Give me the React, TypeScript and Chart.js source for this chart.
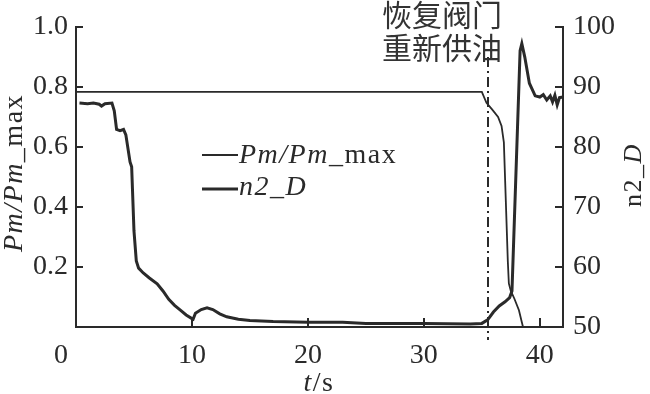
import React, { useEffect, useRef } from "react";
import { Chart, registerables } from "chart.js";

Chart.register(...registerables);

// ---- data ----
const pmTime = [0, 5, 10, 15, 20, 25, 30, 35.0, 35.4, 35.9, 36.4, 36.7, 36.9, 37.07, 37.24, 37.33, 37.5, 37.8, 38.2, 38.45, 38.55];
const pmValues = [0.783, 0.783, 0.783, 0.783, 0.783, 0.783, 0.783, 0.783, 0.747, 0.724, 0.7, 0.67, 0.615, 0.418, 0.22, 0.145, 0.12, 0.095, 0.056, 0.016, 0.0];

const n2Time = [
  0.3, 1.0, 1.5, 2.0, 2.2, 2.5, 3.1, 3.3, 3.5, 3.8, 4.1, 4.3, 4.66, 4.8, 5.0, 5.2, 5.4, 5.8, 6.3, 7.0, 7.5, 8.0, 8.5,
  9.0, 9.5, 10.0, 10.1, 10.3, 10.8, 11.3, 11.8, 12.4, 13.0, 14.0, 15.0, 17.0, 20.0, 23.0, 25.0, 30.0, 34.0, 35.0,
  35.5, 36.0, 36.5, 37.0, 37.4, 37.6, 38.3, 38.45, 38.7, 39.1, 39.6, 40.0, 40.3, 40.6, 40.9, 41.1, 41.3, 41.5, 41.7, 42.0,
];
const n2Values = [
  87.3, 87.2, 87.3, 87.1, 86.8, 87.2, 87.3, 86.0, 82.9, 82.7, 82.9, 82.0, 77.5, 76.7, 66.0, 61.0, 59.8, 59.0, 58.2, 57.2, 56.0, 54.6, 53.6,
  52.8, 52.0, 51.4, 51.3, 52.3, 52.9, 53.2, 52.9, 52.2, 51.7, 51.3, 51.1, 50.9, 50.8, 50.8, 50.6, 50.6, 50.5, 50.6,
  51.2, 52.5, 53.5, 54.2, 54.9, 56.0, 96.0, 97.2, 95.0, 90.6, 88.5, 88.3, 88.7, 87.8, 88.5, 87.5, 88.6, 87.0, 88.2, 88.3,
];

const xTickValues = [0, 10, 20, 30, 40];
const leftTickValues = [0.2, 0.4, 0.6, 0.8, 1.0];
const rightTickValues = [60, 70, 80, 90, 100];
const valveTime = 35.5;
const annotationLines = ["恢复阀门", "重新供油"];

const INK = "#2a2a2a";
const SERIF = "'Liberation Serif', 'DejaVu Serif', serif";

function drawPieces(ctx: CanvasRenderingContext2D, pieces: [string, boolean][], size: number, x: number, y: number, align: "left" | "center") {
  let total = 0;
  const widths = pieces.map(([t, it]) => {
    ctx.font = `${it ? "italic " : ""}${size}px ${SERIF}`;
    const w = ctx.measureText(t).width;
    total += w;
    return w;
  });
  let cx = align === "center" ? x - total / 2 : x;
  pieces.forEach(([t, it], i) => {
    ctx.font = `${it ? "italic " : ""}${size}px ${SERIF}`;
    ctx.fillText(t, cx, y);
    cx += widths[i];
  });
}

const decorPlugin = {
  id: "decor",
  afterDraw(chart: any) {
    const ctx: CanvasRenderingContext2D = chart.ctx;
    const { left, right, top, bottom } = chart.chartArea;
    const xs = chart.scales.x;
    const ys = chart.scales.y;
    const y2 = chart.scales.y2;
    ctx.save();
    // inward tick marks
    ctx.strokeStyle = INK;
    ctx.lineWidth = 2;
    ctx.beginPath();
    xTickValues.forEach((v) => {
      if (v === 0) return;
      const px = Math.round(xs.getPixelForValue(v));
      ctx.moveTo(px, bottom);
      ctx.lineTo(px, bottom - 9);
    });
    leftTickValues.forEach((v) => {
      const py = Math.round(ys.getPixelForValue(v));
      ctx.moveTo(left, py);
      ctx.lineTo(left + 7, py);
    });
    rightTickValues.forEach((v) => {
      const py = Math.round(y2.getPixelForValue(v));
      ctx.moveTo(right, py);
      ctx.lineTo(right - 8, py);
    });
    ctx.stroke();

    // dash-dot marker line
    const vx = Math.round(xs.getPixelForValue(valveTime));
    ctx.setLineDash([10, 4, 2, 4]);
    ctx.lineWidth = 2;
    ctx.beginPath();
    ctx.moveTo(vx, 57);
    ctx.lineTo(vx, bottom + 13);
    ctx.stroke();
    ctx.setLineDash([]);

    // corner "0"
    ctx.fillStyle = INK;
    ctx.font = `28px ${SERIF}`;
    ctx.textAlign = "right";
    ctx.textBaseline = "alphabetic";
    ctx.fillText("0", left - 8, 363);

    // annotation
    ctx.font = `30px 'Noto Sans CJK SC'`;
    ctx.textAlign = "center";
    ctx.textBaseline = "middle";
    ctx.fillStyle = "#333";
    ctx.fillText(annotationLines[0], 442, 15);
    ctx.fillText(annotationLines[1], 442, 48);

    // legend
    ctx.fillStyle = INK;
    ctx.textAlign = "left";
    ctx.textBaseline = "alphabetic";
    (ctx as any).letterSpacing = "1.5px";
    ctx.strokeStyle = INK;
    ctx.lineWidth = 1.8;
    ctx.beginPath();
    ctx.moveTo(202, 155);
    ctx.lineTo(238, 155);
    ctx.stroke();
    ctx.lineWidth = 3.2;
    ctx.beginPath();
    ctx.moveTo(202, 189);
    ctx.lineTo(238, 189);
    ctx.stroke();
    drawPieces(ctx, [["Pm/Pm", true], ["_max", false]], 28, 239, 163, "left");
    drawPieces(ctx, [["n2_D", true]], 28, 239, 195, "left");

    // x title
    drawPieces(ctx, [["t", true], ["/s", false]], 28, 319, 391, "center");

    // left title
    ctx.save();
    ctx.translate(22, 173);
    ctx.rotate(-Math.PI / 2);
    drawPieces(ctx, [["Pm/Pm", true], ["_max", false]], 28, 0, 0, "center");
    ctx.restore();

    // right title
    ctx.save();
    ctx.translate(641, 175);
    ctx.rotate(-Math.PI / 2);
    drawPieces(ctx, [["n2_", false], ["D", true]], 26, 0, 0, "center");
    ctx.restore();

    ctx.restore();
  },
};

export default function App() {
  const ref = useRef<HTMLCanvasElement | null>(null);
  useEffect(() => {
    document.body.style.margin = "0";
    if (!ref.current) return;
    const tickFont = { family: SERIF, size: 28 };
    const chart = new Chart(ref.current, {
      type: "line",
      data: {
        datasets: [
          {
            label: "Pm/Pm_max",
            data: pmTime.map((t, i) => ({ x: t, y: pmValues[i] })),
            borderColor: INK,
            borderWidth: 1.8,
            pointRadius: 0,
            tension: 0,
            yAxisID: "y",
          },
          {
            label: "n2_D",
            data: n2Time.map((t, i) => ({ x: t, y: n2Values[i] })),
            borderColor: INK,
            borderWidth: 3,
            pointRadius: 0,
            tension: 0,
            yAxisID: "y2",
          },
        ],
      },
      options: {
        animation: false,
        responsive: true,
        maintainAspectRatio: false,
        layout: { padding: { top: 23, left: 0, right: 0, bottom: 0 } },
        plugins: { legend: { display: false }, tooltip: { enabled: false } },
        scales: {
          x: {
            type: "linear",
            min: 0,
            max: 42,
            grid: { display: false, drawTicks: false },
            border: { display: true, color: INK, width: 2 },
            ticks: {
              stepSize: 10,
              includeBounds: false,
              padding: 12,
              color: INK,
              font: tickFont,
              maxRotation: 0,
              callback: (v: any) => (v === 0 ? "" : String(v)),
            },
            afterFit: (s: any) => {
              s.height = 67;
            },
          },
          y: {
            type: "linear",
            position: "left",
            min: 0,
            max: 1,
            grid: { display: false, drawTicks: false },
            border: { display: true, color: INK, width: 2 },
            ticks: {
              stepSize: 0.2,
              padding: 8,
              color: INK,
              font: tickFont,
              callback: (v: any) => (v === 0 ? "" : Number(v).toFixed(1)),
            },
            afterFit: (s: any) => {
              s.width = 76;
            },
          },
          y2: {
            type: "linear",
            position: "right",
            min: 50,
            max: 100,
            grid: { display: false, drawTicks: false },
            border: { display: true, color: INK, width: 2 },
            ticks: {
              stepSize: 10,
              padding: 10,
              color: INK,
              font: tickFont,
            },
            afterFit: (s: any) => {
              s.width = 87;
            },
          },
        },
      },
      plugins: [decorPlugin],
    });
    return () => chart.destroy();
  }, []);
  return (
    <div style={{ position: "relative", width: 650, height: 394 }}>
      <canvas ref={ref} />
    </div>
  );
}
